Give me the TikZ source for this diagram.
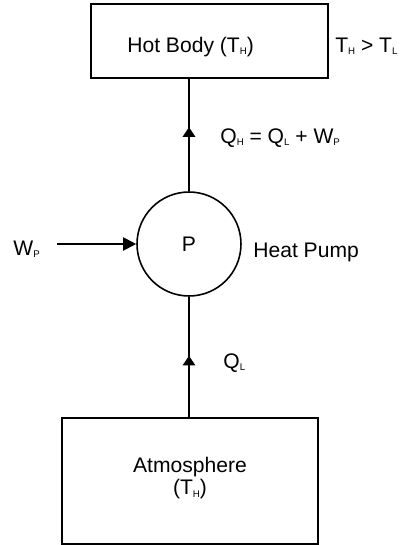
\documentclass[tikz,border=0pt]{standalone}
\usepackage{fontspec}
\setmainfont{Liberation Sans}
\usetikzlibrary{arrows.meta,decorations.markings}
\newcommand{\lowsub}[1]{\raisebox{-0.25ex}{\fontsize{5.5}{5.5}\selectfont #1}}

\begin{document}
\begin{tikzpicture}[x=0.02cm,y=-0.02cm,
  box/.style={draw,line width=0.9pt,inner sep=0pt},
  txt/.style={font=\fontsize{12}{13}\selectfont,inner sep=0pt},
  flow/.style={line width=1.1pt,postaction={decorate},decoration={markings,mark=at position #1 with {\arrow{Triangle[width=7pt,length=5.5pt]}}}}]
\useasboundingbox (0,0) rectangle (414,545);
% boxes and pump
\node[box,minimum width=4.74cm,minimum height=1.48cm] (hot) at (209.5,41) {};
\node[box,minimum width=5.12cm,minimum height=2.52cm] (atm) at (190,481) {};
\node[box,circle,minimum size=2.08cm] (pump) at (189,244) {};
% texts
\node[txt,anchor=base west] (hotlbl) at (127,52) {Hot Body (T\lowsub{H})};
\node[txt,anchor=base west] (cond) at (335,52) {T\lowsub{H} > T\lowsub{L}};
\node[txt] (plbl) at (189,244) {P};
\node[txt,anchor=base west] (hplbl) at (253,257) {Heat Pump};
\node[txt,anchor=base west] (wp) at (13,255) {W\lowsub{P}};
\node[txt,anchor=base west] (qh) at (220,143) {Q\lowsub{H} = Q\lowsub{L} + W\lowsub{P}};
\node[txt,anchor=base west] (ql) at (223,368) {Q\lowsub{L}};
\node[txt,align=center] (atmlbl) at (190,478) {Atmosphere\\(T\lowsub{H})};
% connectors
\coordinate (wpin) at (57,244);
\draw[flow=0.57] (pump.north) -- (pump.north |- hot.south);
\draw[flow=0.51] (pump.south |- atm.north) -- (pump.south);
\draw[-{Triangle[width=7.4pt,length=7.4pt]},line width=1.1pt] (wpin) -- (pump.west);
\end{tikzpicture}
\end{document}
